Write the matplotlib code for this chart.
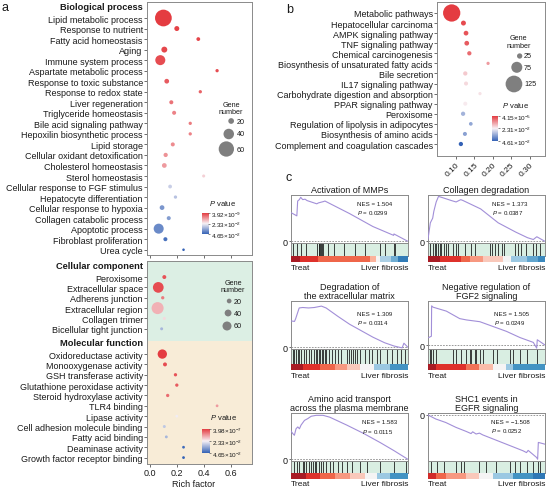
import matplotlib
matplotlib.use('Agg')
import matplotlib.pyplot as plt
import numpy as np
from matplotlib.colors import LinearSegmentedColormap, Normalize

plt.rcParams['font.family'] = ['Liberation Sans', 'DejaVu Sans']
plt.rcParams['mathtext.fontset'] = 'custom'
plt.rcParams['mathtext.rm'] = 'Liberation Sans'
plt.rcParams['mathtext.it'] = 'Liberation Sans:italic'
plt.rcParams['mathtext.bf'] = 'Liberation Sans:bold'
plt.rcParams['mathtext.default'] = 'regular'
plt.rcParams['axes.linewidth'] = 0.7
plt.rcParams['xtick.major.width'] = 0.6
plt.rcParams['ytick.major.width'] = 0.6
plt.rcParams['xtick.major.size'] = 2
plt.rcParams['ytick.major.size'] = 2
plt.rcParams['xtick.major.pad'] = 1.2
plt.rcParams['ytick.major.pad'] = 1
plt.rcParams['text.color'] = '#1a1a1a'
plt.rcParams['xtick.color'] = '#555555'
plt.rcParams['ytick.color'] = '#555555'
plt.rcParams['xtick.labelcolor'] = '#1a1a1a'
plt.rcParams['ytick.labelcolor'] = '#1a1a1a'

# ---------------- DATA ----------------
bp_terms = ["Lipid metabolic process", "Response to nutrient", "Fatty acid homeostasis", "Aging",
            "Immune system process", "Aspartate metabolic process", "Response to toxic substance",
            "Response to redox state", "Liver regeneration", "Triglyceride homeostasis",
            "Bile acid signaling pathway", "Hepoxilin biosynthetic process", "Lipid storage",
            "Cellular oxidant detoxification", "Cholesterol homeostasis", "Sterol homeostasis",
            "Cellular response to FGF stimulus", "Hepatocyte differentiation",
            "Cellular response to hypoxia", "Collagen catabolic process", "Apoptotic process",
            "Fibroblast proliferation", "Urea cycle"]
bp_rich = [0.10, 0.20, 0.36, 0.107, 0.077, 0.50, 0.125, 0.375, 0.159, 0.18, 0.30, 0.30, 0.17,
           0.117, 0.107, 0.40, 0.15, 0.19, 0.09, 0.14, 0.065, 0.115, 0.25]
bp_genes = [66, 17, 12, 21, 38, 10, 16, 10, 13, 13, 10, 10, 13, 14, 16, 9, 12, 10, 16, 13, 38, 13, 7]
bp_p = [3.92e-9, 0.001, 0.0012, 0.0015, 0.002, 0.0022, 0.004, 0.005, 0.007, 0.009, 0.008, 0.009,
        0.010, 0.011, 0.012, 0.019, 0.029, 0.031, 0.038, 0.037, 0.040, 0.044, 0.0465]

cc_terms = ["Peroxisome", "Extracellular space", "Adherens junction", "Extracellular region",
            "Collagen trimer", "Bicellular tight junction"]
cc_rich = [0.107, 0.062, 0.095, 0.057, 0.107, 0.087]
cc_genes = [13, 76, 7, 88, 4, 4]
cc_p = [0.003, 0.002, 0.008, 0.015, 0.02, 0.033]

mf_terms = ["Oxidoreductase activity", "Monooxygenase activity", "GSH transferase activity",
            "Glutathione peroxidase activity", "Steroid hydroxylase activity", "TLR4 binding",
            "Lipase activity", "Cell adhesion molecule binding", "Fatty acid binding",
            "Deaminase activity", "Growth factor receptor binding"]
mf_rich = [0.092, 0.112, 0.19, 0.20, 0.132, 0.50, 0.20, 0.107, 0.122, 0.25, 0.25]
mf_genes = [63, 13, 7, 7, 7, 2, 2, 4, 3, 2, 2]
mf_p = [3.98e-7, 0.002, 0.003, 0.004, 0.006, 0.012, 0.024, 0.030, 0.033, 0.045, 0.0465]

kegg_terms = ["Metabolic pathways", "Hepatocellular carcinoma", "AMPK signaling pathway",
              "TNF signaling pathway", "Chemical carcinogenesis",
              "Biosynthesis of unsaturated fatty acids", "Bile secretion", "IL17 signaling pathway",
              "Carbohydrate digestion and absorption", "PPAR signaling pathway", "Peroxisome",
              "Regulation of lipolysis in adipocytes", "Biosynthesis of amino acids",
              "Complement and coagulation cascades"]
kegg_rich = [0.088, 0.12, 0.127, 0.129, 0.136, 0.187, 0.125, 0.127, 0.165, 0.125, 0.119, 0.14,
             0.124, 0.113]
kegg_genes = [130, 22, 20, 20, 16, 7, 16, 14, 7, 14, 16, 11, 14, 16]
kegg_p = [4.15e-5, 0.002, 0.003, 0.004, 0.006, 0.012, 0.018, 0.020, 0.021, 0.022, 0.033, 0.035,
          0.036, 0.0461]
kegg_xticks = [0.10, 0.15, 0.20, 0.25, 0.30]

gene_legend_a = [20, 40, 60]
gene_legend_b = [25, 75, 125]
rich_ticks = [0.0, 0.2, 0.4, 0.6]

gsea_titles = ["Activation of MMPs", "Collagen degradation",
               "Degradation of\nthe extracellular matrix", "Negative regulation of\nFGF2 signaling",
               "Amino acid transport\nacross the plasma membrane", "SHC1 events in\nEGFR signaling"]
gsea_nes = ["1.504", "1.373", "1.309", "1.505", "1.583", "\u22121.508"]
gsea_pval = ["0.0299", "0.0387", "0.0314", "0.0249", "0.0115", "0.0252"]

es_x = [
    [0, 0.05, 0.057, 0.071, 0.083, 0.10, 0.12, 0.137, 0.22, 0.235, 0.28, 0.29, 0.5, 0.7, 0.877, 0.88, 1.0],
    [0, 0.02, 0.04, 0.05, 0.07, 0.09, 0.14, 0.2, 0.24, 0.28, 0.3, 0.45, 0.6, 0.75, 0.85, 0.9, 0.93, 1.0],
    [0, 0.03, 0.04, 0.07, 0.1, 0.15, 0.2, 0.26, 0.3, 0.4, 0.5, 0.6, 0.7, 0.8, 0.88, 0.93, 0.95, 0.965, 1.0],
    [0.006, 0.029, 0.031, 0.043, 0.157, 0.271, 0.329, 0.443, 0.557, 0.671, 0.786, 0.9, 0.929, 0.934, 1.0],
    [0, 0.014, 0.029, 0.043, 0.058, 0.072, 0.086, 0.115, 0.144, 0.173, 0.216, 0.274, 0.331, 0.476, 0.62, 0.764, 0.879, 1.0],
    [0, 0.066, 0.152, 0.239, 0.325, 0.368, 0.382, 0.411, 0.44, 0.468, 0.583, 0.727, 0.813, 0.842, 0.856, 0.928, 0.937, 0.943, 1.0],
]
es_y = [
    [0.62, 0.55, 0.87, 0.90, 0.95, 0.90, 0.91, 0.88, 0.81, 0.83, 0.86, 0.87, 0.60, 0.32, 0.13, 0.16, 0.0],
    [0.05, 0.40, 0.50, 0.65, 0.85, 0.97, 0.93, 0.88, 0.85, 0.90, 0.88, 0.70, 0.40, 0.20, 0.08, 0.04, 0.10, 0.0],
    [0.57, 0.56, 0.62, 0.85, 0.86, 0.85, 0.86, 0.89, 0.85, 0.67, 0.50, 0.36, 0.22, 0.10, 0.03, 0.0, -0.01, 0.09, 0.0],
    [0.17, 0.20, 0.89, 0.86, 0.77, 0.60, 0.57, 0.53, 0.42, 0.31, 0.17, 0.06, -0.07, 0.12, 0.0],
    [0.61, 0.56, 0.52, 0.66, 0.70, 0.66, 0.74, 0.84, 0.88, 0.93, 0.95, 0.95, 0.91, 0.74, 0.56, 0.36, 0.19, 0.0],
    [0, -0.09, -0.17, -0.28, -0.37, -0.42, -0.38, -0.43, -0.41, -0.45, -0.57, -0.72, -0.81, -0.85, -0.80, -0.96, -1.0, -0.62, -0.66],
]
hits = [
    [0.02, 0.05, 0.086, 0.126, 0.226, 0.236, 0.243, 0.25, 0.257, 0.264, 0.277, 0.32, 0.37, 0.45,
     0.55, 0.634, 0.763, 0.806, 0.877, 0.89],
    [0.02, 0.043, 0.057, 0.065, 0.085, 0.1, 0.114, 0.134, 0.156, 0.17, 0.213, 0.24, 0.256, 0.313,
     0.37, 0.4, 0.526, 0.545, 0.57, 0.597, 0.63, 0.653, 0.74, 0.767, 0.795, 0.838, 0.895, 0.923, 0.96],
    [0.014, 0.029, 0.043, 0.058, 0.072, 0.086, 0.107, 0.130, 0.153, 0.173, 0.193, 0.210, 0.225,
     0.239, 0.251, 0.262, 0.274, 0.288, 0.303, 0.326, 0.354, 0.378, 0.403, 0.427, 0.476, 0.493,
     0.510, 0.527, 0.545, 0.562, 0.591, 0.634, 0.663, 0.692, 0.735, 0.764, 0.821, 0.865, 0.908,
     0.942, 0.971],
    [0.014, 0.029, 0.043, 0.071, 0.214, 0.243, 0.286, 0.329, 0.357, 0.371, 0.4, 0.414, 0.443,
     0.471, 0.557, 0.586, 0.7, 0.729, 0.786, 0.843, 0.929],
    [0.029, 0.049, 0.072, 0.101, 0.115, 0.130, 0.153, 0.173, 0.187, 0.202, 0.216, 0.239, 0.259,
     0.274, 0.303, 0.331, 0.360, 0.403, 0.432, 0.476, 0.519, 0.591, 0.648, 0.764, 0.879, 0.980],
    [0.023, 0.080, 0.138, 0.239, 0.282, 0.310, 0.440, 0.497, 0.583, 0.698, 0.741, 0.784, 0.842,
     0.899, 0.937, 0.957],
]
rank_edges = [
    [0, 0.077, 0.234, 0.674, 0.726, 0.76, 0.857, 0.914, 1.0],
    [0, 0.1, 0.28, 0.355, 0.47, 0.64, 0.71, 0.85, 0.94, 1.0],
    [0, 0.1, 0.245, 0.375, 0.476, 0.591, 0.706, 0.85, 1.0],
    [0, 0.066, 0.325, 0.44, 0.555, 0.67, 0.727, 1.0],
    [0, 0.13, 0.245, 0.375, 0.5, 0.63, 0.735, 0.85, 1.0],
    [0, 0.066, 0.152, 0.324, 0.44, 0.555, 0.727, 0.9, 1.0],
]
rank_vals = [
    [1.0, 0.8, 0.6, 0.3, 0.0, -0.25, -0.45, -0.8],
    [1.0, 0.8, 0.6, 0.4, 0.2, 0.0, -0.3, -0.5, -0.7],
    [1.0, 0.8, 0.6, 0.4, 0.2, 0.0, -0.3, -0.6],
    [1.0, 0.8, 0.55, 0.25, 0.0, -0.3, -0.6],
    [1.0, 0.8, 0.6, 0.4, 0.2, 0.0, -0.3, -0.6],
    [0.85, 0.6, 0.4, 0.2, 0.0, -0.3, -0.6, -0.85],
]

# ---------------- STYLE / LAYOUT ----------------
W, H = 546, 489
fig = plt.figure(figsize=(W / 100, H / 100), dpi=100)
SPINE = '#8a8a8a'
GRAY = '#7f7f7f'
cmap_p = LinearSegmentedColormap.from_list('pv', ['#e43c41', '#f8f2f6', '#3462b6'])
cmap_rank = LinearSegmentedColormap.from_list(
    'rank', [(0, '#2166ac'), (0.2, '#4393c3'), (0.35, '#9cc8e2'), (0.5, '#f5f5f5'),
             (0.65, '#fbb29c'), (0.8, '#ef664a'), (0.9, '#df312b'), (1.0, '#a81b24')])


def frect(x0, y0, x1, y1):
    return [x0 / W, 1 - y1 / H, (x1 - x0) / W, (y1 - y0) / H]


def diam(genes, n_lo, d_lo, n_hi, d_hi):
    return np.maximum(d_lo + (np.asarray(genes, float) - n_lo) * (d_hi - d_lo) / (n_hi - n_lo), 1.5)


def s_of(d):
    return (np.asarray(d) * 0.72) ** 2


def style_spines(ax):
    for sp in ax.spines.values():
        sp.set_color(SPINE)
        sp.set_linewidth(0.7)


def sci(v):
    m, e = f"{v:.2e}".split('e')
    return f"{m}\u00d710$^{{{int(e)}}}$"


FS = 6.5

# ---- panel a: BP ----
ax_bp = fig.add_axes(frect(147, 3, 252, 256))
yb = np.arange(len(bp_terms))
norm_bp = Normalize(min(bp_p), max(bp_p))
ax_bp.scatter(bp_rich, yb, s=s_of(diam(bp_genes, 20, 5.7, 60, 15.3)), c=bp_p, cmap=cmap_p,
              norm=norm_bp, edgecolors='none', zorder=3)
ax_bp.set_xlim(-0.022, 0.76)
ax_bp.set_ylim(len(bp_terms) - 0.5, -1.52)
ax_bp.set_yticks(yb)
ax_bp.set_yticklabels(bp_terms, fontsize=FS)
ax_bp.set_xticks(rich_ticks)
ax_bp.tick_params(axis='x', labelbottom=False)
style_spines(ax_bp)

# ---- panel a: CC + MF ----
ax_cm = fig.add_axes(frect(147, 262, 252, 465))
ycc = np.arange(len(cc_terms))
ymf = np.arange(len(mf_terms)) + len(cc_terms) + 1.44
split = len(cc_terms) + 0.18
top_cm, bot_cm = -1.55, len(cc_terms) + 1.44 + len(mf_terms) - 1 + 0.62
ax_cm.axhspan(top_cm, split, color='#dcefe4', zorder=0, lw=0)
ax_cm.axhspan(split, bot_cm, color='#f8ecd7', zorder=0, lw=0)
norm_cm = Normalize(min(cc_p + mf_p), max(cc_p + mf_p))
ax_cm.scatter(cc_rich, ycc, s=s_of(diam(cc_genes, 20, 4.7, 60, 9.0)), c=cc_p, cmap=cmap_p,
              norm=norm_cm, edgecolors='none', zorder=3)
ax_cm.scatter(mf_rich, ymf, s=s_of(diam(mf_genes, 20, 4.7, 60, 9.0)), c=mf_p, cmap=cmap_p,
              norm=norm_cm, edgecolors='none', zorder=3)
ax_cm.set_xlim(-0.022, 0.76)
ax_cm.set_ylim(bot_cm, top_cm)
ax_cm.set_yticks(list(ycc) + list(ymf))
ax_cm.set_yticklabels(cc_terms + mf_terms, fontsize=FS)
ax_cm.set_xticks(rich_ticks)
ax_cm.set_xticklabels([f"{t:.1f}" for t in rich_ticks], fontsize=FS)
style_spines(ax_cm)
fig.text(194 / W, 1 - 485 / H, 'Rich factor', ha='center', va='center', fontsize=FS)

for txt, yy in [('Biological process', 7), ('Cellular component', 267), ('Molecular function', 344)]:
    fig.text(143 / W, 1 - yy / H, txt, ha='right', va='center', fontsize=6.7, fontweight='bold')

# ---- panel b: KEGG ----
ax_k = fig.add_axes(frect(437, 3, 545, 157))
yk = np.arange(len(kegg_terms))
norm_k = Normalize(min(kegg_p), max(kegg_p))
ax_k.scatter(kegg_rich, yk, s=s_of(diam(kegg_genes, 25, 5.3, 125, 16.7)), c=kegg_p, cmap=cmap_p,
             norm=norm_k, edgecolors='none', zorder=3)
ax_k.set_xlim(0.048, 0.342)
ax_k.set_ylim(len(kegg_terms) - 1 + 1.19, -1.09)
ax_k.set_yticks(yk)
ax_k.set_yticklabels(kegg_terms, fontsize=FS)
ax_k.set_xticks(kegg_xticks)
ax_k.set_xticklabels([f"{t:.2f}" for t in kegg_xticks], fontsize=6, rotation=45, ha='right',
                     rotation_mode='anchor')
style_spines(ax_k)

# ---- overlay for legends (pixel coords) ----
ov = fig.add_axes([0, 0, 1, 1], zorder=10)
ov.set_xlim(0, W)
ov.set_ylim(H, 0)
ov.axis('off')


def size_legend(values, ys, dfun, right_edge, label_x, title_xy):
    d = dfun(values)
    ov.scatter(right_edge - d / 2, ys, s=s_of(d), c=GRAY, edgecolors='none')
    for v, yy in zip(values, ys):
        ov.text(label_x, yy, str(v), ha='left', va='center', fontsize=5.2)
    ov.text(title_xy[0], title_xy[1], 'Gene\nnumber', ha='center', va='center', fontsize=5.2,
            linespacing=1.0)


size_legend(gene_legend_a, [122, 135, 150], lambda v: diam(v, 20, 5.7, 60, 15.3), 234, 236.5, (231, 109))
size_legend(gene_legend_a, [302, 314, 327], lambda v: diam(v, 20, 4.7, 60, 9.0), 231.5, 234, (233, 287))
size_legend(gene_legend_b, [57, 68.3, 85], lambda v: diam(v, 25, 5.3, 125, 16.7), 522.3, 524, (518.7, 42.5))


def pbar(rect_px, norm, title_xy):
    cax = fig.add_axes(frect(*rect_px), zorder=11)
    grad = np.linspace(norm.vmin, norm.vmax, 256).reshape(-1, 1)
    cax.imshow(grad, aspect='auto', cmap=cmap_p, norm=norm, origin='upper',
               extent=[0, 1, norm.vmax, norm.vmin])
    cax.set_ylim(norm.vmax, norm.vmin)
    cax.set_xticks([])
    mid = (norm.vmin + norm.vmax) / 2
    cax.yaxis.tick_right()
    cax.set_yticks([norm.vmin, mid, norm.vmax])
    cax.set_yticklabels([sci(norm.vmin), sci(mid), sci(norm.vmax)], fontsize=4.6)
    cax.tick_params(axis='y', length=1.5, pad=0.8, width=0.5)
    for sp in cax.spines.values():
        sp.set_visible(False)
    ov.text(title_xy[0], title_xy[1], '$\\it{P}$ value', ha='center', va='center', fontsize=5.5)


pbar((202, 214, 208, 235), norm_bp, (223, 203))
pbar((202, 430, 209, 454), norm_cm, (224, 418))
pbar((492, 117, 497.5, 142), norm_k, (515.7, 105))

# ---- panel c: GSEA ----
cols = [(291, 408), (428, 545)]
rows = [(196, 244, 257, 263, 268), (302, 350, 365, 371, 377), (414, 462, 474, 480, 485)]
nes_anchor = [(0.56, 8, 17), (0.55, 8, 17), (0.56, 12, 21), (0.56, 12, 21), (0.61, 9, 17.7),
              (0.54, 9, 17.5)]
norm_rank = Normalize(-1, 1)

for i in range(6):
    r, c = divmod(i, 2)
    x0, x1 = cols[c]
    t, b, bb, gb, ly = rows[r]
    ax = fig.add_axes(frect(x0, t, x1, b))
    yv = es_y[i]
    if min(yv) < -0.5:
        ax.set_ylim(min(min(yv) - 0.04, -1.04), 0.045)
    else:
        ax.set_ylim(min(-0.035, min(yv) - 0.02), 1.0)
    ax.set_xlim(0, 1)
    ax.plot(es_x[i], yv, color='#a28fd8', lw=0.8, zorder=3)
    ax.axhline(0, color='#888888', lw=0.6, ls=(0, (2, 1.5)), zorder=2)
    ax.set_xticks([])
    ax.set_yticks([0])
    ax.set_yticklabels(['0'], fontsize=FS)
    ax.tick_params(axis='y', length=1.5, pad=0.8)
    style_spines(ax)
    ax.set_title(gsea_titles[i], fontsize=FS, pad=2.5, linespacing=1.0)
    fx, o1, o2 = nes_anchor[i]
    hpx = b - t
    ax.text(fx, 1 - o1 / hpx, f"NES = {gsea_nes[i]}", transform=ax.transAxes, fontsize=4.4,
            ha='left', va='center')
    ax.text(fx, 1 - o2 / hpx, f"$\\it{{P}}$ = {gsea_pval[i]}", transform=ax.transAxes,
            fontsize=4.4, ha='left', va='center')

    axh = fig.add_axes(frect(x0, b, x1, bb))
    axh.set_facecolor('#d9eee2')
    axh.vlines(hits[i], 0, 1, color='#1e1e1e', lw=0.6)
    axh.set_xlim(0, 1)
    axh.set_ylim(0, 1)
    axh.set_xticks([])
    axh.set_yticks([])
    style_spines(axh)

    axg = fig.add_axes(frect(x0, bb, x1, gb))
    e = rank_edges[i]
    axg.bar(e[:-1], [1.0] * (len(e) - 1), width=np.diff(e), bottom=0, align='edge',
            color=[cmap_rank(norm_rank(v)) for v in rank_vals[i]], lw=0)
    axg.set_xlim(0, 1)
    axg.set_ylim(0, 1)
    axg.axis('off')

    fig.text(x0 / W, 1 - ly / H, 'Treat', ha='left', va='center', fontsize=6)
    fig.text(x1 / W, 1 - ly / H, 'Liver fibrosis', ha='right', va='center', fontsize=6)

# panel letters
fig.text(2 / W, 1 - 8 / H, 'a', fontsize=9, va='center')
fig.text(286 / W, 1 - 10 / H, 'b', fontsize=9, va='center')
fig.text(286 / W, 1 - 178 / H, 'c', fontsize=9, va='center')

fig.savefig('out.png', dpi=100)
